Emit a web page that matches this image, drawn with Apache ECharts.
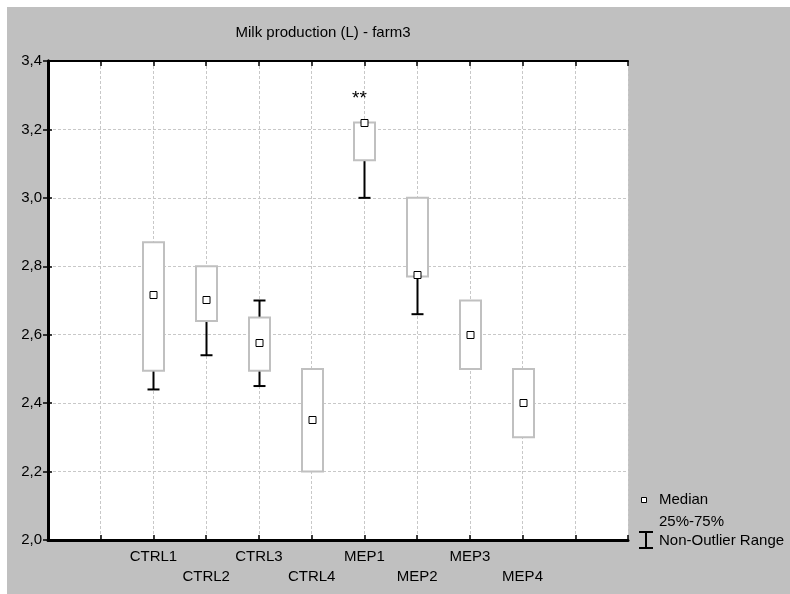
<!DOCTYPE html>
<html>
<head>
<meta charset="utf-8">
<script src="https://cdn.jsdelivr.net/npm/echarts@6/dist/echarts.min.js"></script>
<style>
  html, body { margin: 0; padding: 0; background: #fff; width: 790px; height: 594px; overflow: hidden; }
  #chart { position: absolute; left: 7px; top: 7px; width: 783px; height: 587px; }
</style>
</head>
<body>
<div id="chart"></div>
<script>
// groups
const categories = ['CTRL1', 'CTRL2', 'CTRL3', 'CTRL4', 'MEP1', 'MEP2', 'MEP3', 'MEP4'];
const q1 = [2.495, 2.64, 2.495, 2.20, 3.11, 2.77, 2.50, 2.30];
const q3 = [2.87, 2.80, 2.65, 2.50, 3.22, 3.00, 2.70, 2.50];
const medians = [2.715, 2.70, 2.575, 2.35, 3.22, 2.775, 2.60, 2.40];
const whiskerLow = [2.44, 2.54, 2.45, 2.20, 3.00, 2.66, 2.50, 2.30];
const whiskerHigh = [2.87, 2.80, 2.70, 2.50, 3.22, 3.00, 2.70, 2.50];
const marks = ['', '', '', '', '**', '', '', ''];

const FONT = 'Arial, "Liberation Sans", sans-serif';
const GRAY = '#c0c0c0';

const chart = echarts.init(document.getElementById('chart'));

// category i sits at x = i + 2 on an axis running 0..11
const data = categories.map((c, i) => [i + 2, q1[i], q3[i], medians[i], whiskerLow[i], whiskerHigh[i], i]);

function renderBox(params, api) {
  const x = api.value(0);
  const lo = api.value(1);
  const hi = api.value(2);
  const med = api.value(3);
  const wl = api.value(4);
  const wh = api.value(5);
  const idx = api.value(6);
  const pTop = api.coord([x, hi]);
  const pBot = api.coord([x, lo]);
  const cx = Math.round(pTop[0]) + 0.5;
  const half = 10.5;
  const cap = 6;
  const children = [];
  children.push({
    type: 'rect',
    shape: { x: cx - half, y: pTop[1], width: half * 2, height: pBot[1] - pTop[1] },
    style: { fill: '#fff', stroke: GRAY, lineWidth: 2 }
  });
  if (wl < lo) {
    const pw = api.coord([x, wl]);
    children.push({ type: 'line', shape: { x1: cx, y1: pBot[1] + 1, x2: cx, y2: pw[1] }, style: { stroke: '#000', lineWidth: 2 } });
    children.push({ type: 'line', shape: { x1: cx - cap, y1: pw[1], x2: cx + cap, y2: pw[1] }, style: { stroke: '#000', lineWidth: 2 } });
  }
  if (wh > hi) {
    const pw = api.coord([x, wh]);
    children.push({ type: 'line', shape: { x1: cx, y1: pTop[1] - 1, x2: cx, y2: pw[1] }, style: { stroke: '#000', lineWidth: 2 } });
    children.push({ type: 'line', shape: { x1: cx - cap, y1: pw[1], x2: cx + cap, y2: pw[1] }, style: { stroke: '#000', lineWidth: 2 } });
  }
  const pm = api.coord([x, med]);
  children.push({
    type: 'rect',
    shape: { x: cx - 3.5, y: Math.round(pm[1]) - 3.5, width: 7, height: 7 },
    style: { fill: '#fff', stroke: '#000', lineWidth: 1 }
  });
  if (marks[idx]) {
    const pt = api.coord([x, Math.max(wh, hi)]);
    children.push({
      type: 'text',
      style: { x: cx - 5, y: pt[1] - 24, text: marks[idx], fill: '#000', font: '19px ' + FONT, align: 'center', verticalAlign: 'middle' }
    });
  }
  return { type: 'group', children: children };
}

const option = {
  backgroundColor: GRAY,
  animation: false,
  grid: { left: 41, top: 54, right: 162, bottom: 54, show: true, backgroundColor: '#fff', borderWidth: 0 },
  xAxis: [
    {
      type: 'value', min: 0, max: 11, interval: 1, position: 'bottom',
      axisLine: { lineStyle: { color: '#000', width: 3 } },
      axisTick: { inside: true, length: 5, lineStyle: { color: '#000', width: 1.5 } },
      splitLine: { show: true, lineStyle: { color: '#c8c8c8', type: [3, 2], width: 1 } },
      axisLabel: {
        margin: 7, fontSize: 15, fontFamily: FONT, color: '#000', lineHeight: 20,
        formatter: function (v) {
          const i = v - 2;
          if (i < 0 || i >= categories.length) return '';
          return i % 2 === 0 ? categories[i] : '\n' + categories[i];
        }
      }
    },
    {
      type: 'value', min: 0, max: 11, interval: 1, position: 'top',
      axisLine: { lineStyle: { color: '#000', width: 2 } },
      axisTick: { inside: true, length: 5, lineStyle: { color: '#000', width: 1.5 } },
      axisLabel: { show: false },
      splitLine: { show: false }
    }
  ],
  yAxis: [
    {
      type: 'value', min: 2.0, max: 3.4, interval: 0.2, position: 'left',
      axisLine: { show: true, lineStyle: { color: '#000', width: 3 } },
      axisTick: { show: true, inside: true, length: 4, lineStyle: { color: '#000', width: 1.5 } },
      splitLine: { show: true, lineStyle: { color: '#c8c8c8', type: [3, 2], width: 1 } },
      axisLabel: {
        margin: 6, fontSize: 15, fontFamily: FONT, color: '#000',
        formatter: function (v) { return v.toFixed(1).replace('.', ','); }
      }
    },
    {
      type: 'value', min: 2.0, max: 3.4, interval: 0.2, position: 'right',
      axisLine: { show: true, lineStyle: { color: '#000', width: 3 } },
      axisTick: { show: true, inside: true, length: 5, lineStyle: { color: '#000', width: 1.5 } },
      axisLabel: { show: false },
      splitLine: { show: false }
    }
  ],
  series: [
    {
      type: 'custom',
      renderItem: renderBox,
      encode: { x: 0, y: [1, 2, 3, 4, 5] },
      data: data,
      z: 10
    }
  ],
  graphic: [
    {
      type: 'text', x: 316, y: 26,
      style: { text: 'Milk production (L) - farm3', font: '15px ' + FONT, fill: '#000', align: 'center', verticalAlign: 'middle' }
    },
    // legend
    { type: 'rect', shape: { x: 634.5, y: 490.5, width: 5, height: 5 }, style: { fill: '#fff', stroke: '#000', lineWidth: 1 } },
    { type: 'text', x: 652, y: 493, style: { text: 'Median', font: '15px ' + FONT, fill: '#000', verticalAlign: 'middle' } },
    { type: 'text', x: 652, y: 515, style: { text: '25%-75%', font: '15px ' + FONT, fill: '#000', verticalAlign: 'middle' } },
    { type: 'line', shape: { x1: 639, y1: 525, x2: 639, y2: 541 }, style: { stroke: '#000', lineWidth: 2 } },
    { type: 'line', shape: { x1: 632, y1: 525, x2: 646, y2: 525 }, style: { stroke: '#000', lineWidth: 2 } },
    { type: 'line', shape: { x1: 632, y1: 541, x2: 646, y2: 541 }, style: { stroke: '#000', lineWidth: 2 } },
    { type: 'text', x: 652, y: 534, style: { text: 'Non-Outlier Range', font: '15px ' + FONT, fill: '#000', verticalAlign: 'middle' } }
  ]
};

chart.setOption(option);
</script>
</body>
</html>
